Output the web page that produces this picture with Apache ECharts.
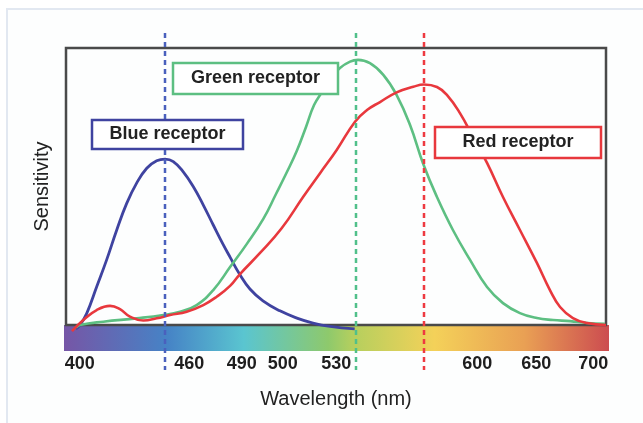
<!DOCTYPE html>
<html>
<head>
<meta charset="utf-8">
<script src="https://cdn.jsdelivr.net/npm/echarts@6/dist/echarts.min.js"></script>
<style>html,body{margin:0;padding:0;background:#fff}#c{width:643px;height:423px}</style>
</head>
<body>
<div id="c"></div>
<script>
// Wavelength axis (figure's own wavelength scale, nm) and relative sensitivity (0-100)
const blueCurve = [[397.8,-1.4],[400.2,0],[404.1,4.2],[409.9,13.8],[415.7,23.5],[421.6,34.3],[427.4,43.9],[433.2,51.2],[439.1,56.6],[444.9,59.3],[449.8,59.9],[454.6,59.0],[460.4,55.3],[466.3,49.9],[472.1,43.3],[477.9,36.1],[483.8,28.9],[487.7,24.5],[493.5,18.1],[499.3,13.0],[506.9,8.7],[516.8,5.1],[526.7,2.5],[536.1,0.7],[546.0,-0.5],[560.4,-1.4]];
const greenCurve = [[397.8,-0.9],[400.2,0],[413.8,1.2],[433.2,2.4],[448.8,3.6],[458.5,4.8],[468.2,7.2],[477.9,12.6],[487.7,20.9],[497.4,29.2],[507.1,38.3],[514.5,47.3],[520.3,54.5],[526.6,62.8],[532.0,71.5],[536.7,79.4],[541.3,84.1],[546.0,88.8],[551.8,92.8],[557.7,95.1],[562.3,95.7],[569.3,94.5],[577.1,90.3],[584.9,83.0],[592.7,72.2],[600.4,58.1],[608.4,46.2],[617.7,34.3],[627.7,23.5],[637.6,13.7],[646.9,7.9],[656.8,4.3],[666.7,2.5],[676.1,1.8],[686.0,1.4],[695.9,0.7],[706.4,0.4]];
const redCurve = [[395.5,-2.2],[402.1,1.8],[409.9,5.4],[417.7,6.9],[423.5,5.7],[429.3,3.0],[437.1,1.6],[444.9,2.4],[452.7,3.6],[462.4,4.8],[472.1,7.2],[479.9,10.2],[487.7,14.1],[493.5,18.4],[505.2,26.0],[517.8,34.9],[530.4,46.3],[540.2,54.8],[549.9,63.2],[560.6,73.4],[567.6,77.6],[575.2,80.5],[584.9,84.0],[594.6,86.0],[600.8,86.8],[608.4,85.9],[614.3,83.0],[621.8,76.5],[629.4,67.9],[637.6,58.5],[646.9,46.2],[656.8,34.3],[666.7,22.4],[674.3,12.6],[680.2,6.5],[687.7,2.5],[695.9,0.7],[707,0]];
const peakWavelengths = [450, 561, 601];
const receptorNames = ['Blue receptor', 'Green receptor', 'Red receptor'];
const tickValues = [400, 463.9, 494.5, 518.4, 549.6, 631.9, 666.3, 699.6];
const tickLabels = ['400', '460', '490', '500', '530', '600', '650', '700'];
const xTitle = 'Wavelength (nm)';
const yTitle = 'Sensitivity';

const FONT = "'Liberation Sans', Arial, Helvetica, sans-serif";
const colors = ['#3f43a0', '#5dbf82', '#e8383d'];
const dashColors = ['#4a60bd', '#50c08a', '#ee3a40'];

const chart = echarts.init(document.getElementById('c'), null, {renderer: 'canvas'});

function labelBox(x, y, w, h, text, color) {
  return {
    type: 'group', z: 100,
    children: [
      {type: 'rect', shape: {x: x, y: y, width: w, height: h},
       style: {fill: '#ffffff', stroke: color, lineWidth: 2.5}, z: 100},
      {type: 'text', x: x + w / 2, y: y + h / 2, z: 101,
       style: {text: text, fill: '#222', font: 'bold 18px ' + FONT, align: 'center', verticalAlign: 'middle'}}
    ]
  };
}

const option = {
  animation: false,
  backgroundColor: '#ffffff',
  grid: {left: 66, right: 37, top: 48, bottom: 98, show: true, borderColor: '#4a4a4a', borderWidth: 2.5, backgroundColor: 'transparent', z: 1},
  xAxis: {
    type: 'value', min: 392, max: 707,
    axisLine: {show: false}, axisTick: {show: false}, splitLine: {show: false},
    axisLabel: {
      customValues: tickValues,
      margin: 30, fontSize: 18, fontWeight: 'bold', color: '#1e1e1e', fontFamily: FONT,
      formatter: function (v) {
        let best = 0;
        for (let i = 1; i < tickValues.length; i++) if (Math.abs(tickValues[i] - v) < Math.abs(tickValues[best] - v)) best = i;
        return tickLabels[best];
      }
    },
    name: xTitle, nameLocation: 'middle', nameGap: 64,
    nameTextStyle: {fontSize: 20, color: '#222', fontFamily: FONT}
  },
  yAxis: {
    type: 'value', min: 0, max: 100,
    axisLine: {show: false}, axisTick: {show: false}, splitLine: {show: false}, axisLabel: {show: false},
    name: yTitle, nameLocation: 'middle', nameGap: 14,
    nameTextStyle: {fontSize: 20, color: '#222', fontFamily: FONT}
  },
  graphic: [
    {type: 'rect', z: -10, silent: true, shape: {x: 7, y: 9, width: 700, height: 500},
     style: {fill: '#fdfefe', stroke: '#e2e8f1', lineWidth: 2}},
    {type: 'rect', z: 0, silent: true, shape: {x: 64, y: 325, width: 545, height: 26},
     style: {fill: new echarts.graphic.LinearGradient(0, 0, 1, 0, [
       {offset: 0, color: '#7656a6'},
       {offset: 0.19, color: '#4683c6'},
       {offset: 0.33, color: '#5ac5d0'},
       {offset: 0.485, color: '#8ec96c'},
       {offset: 0.53, color: '#b5cf5e'},
       {offset: 0.68, color: '#f4d159'},
       {offset: 0.845, color: '#e9a054'},
       {offset: 1, color: '#cc4c50'}
     ])}},
    labelBox(92, 120, 151, 29, receptorNames[0], colors[0]),
    labelBox(173, 63, 165, 31, receptorNames[1], colors[1]),
    labelBox(435, 127, 166, 31, receptorNames[2], colors[2])
  ],
  series: [
    {type: 'line', name: receptorNames[0], data: blueCurve, smooth: 0.45, showSymbol: false, clip: false, z: 3,
     lineStyle: {color: colors[0], width: 2.8}},
    {type: 'line', name: receptorNames[1], data: greenCurve, smooth: 0.45, showSymbol: false, clip: false, z: 3,
     lineStyle: {color: colors[1], width: 2.6}},
    {type: 'line', name: receptorNames[2], data: redCurve, smooth: 0.45, showSymbol: false, clip: false, z: 3,
     lineStyle: {color: colors[2], width: 2.6}},
    {type: 'custom', z: 4, clip: false,
     data: peakWavelengths.map((p, i) => [p, i]),
     renderItem: function (params, api) {
       const x = Math.round(api.coord([api.value(0), 0])[0]);
       const cs = params.coordSys;
       return {type: 'line', shape: {x1: x, y1: cs.y - 15, x2: x, y2: cs.y + cs.height + 45},
               style: {stroke: dashColors[api.value(1)], lineWidth: 2.5, lineDash: [5, 4]}};
     }}
  ]
};
chart.setOption(option);
</script>
</body>
</html>
